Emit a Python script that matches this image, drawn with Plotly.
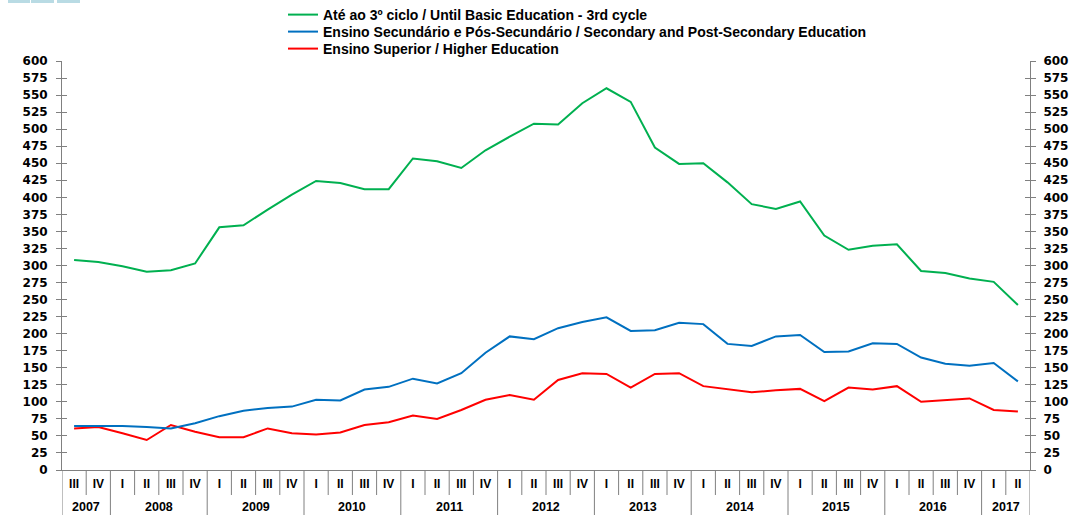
import plotly.graph_objects as go

# ---------------- data ----------------
years = ["2007"] * 2 + ["2008"] * 4 + ["2009"] * 4 + ["2010"] * 4 + ["2011"] * 4 + \
        ["2012"] * 4 + ["2013"] * 4 + ["2014"] * 4 + ["2015"] * 4 + ["2016"] * 4 + ["2017"] * 2
quarters = ["III", "IV"] + ["I", "II", "III", "IV"] * 9 + ["I", "II"]

basic = [308, 305, 299, 291, 293, 303, 356, 359, 382, 404, 424, 421, 412, 412,
         457, 453, 443, 469, 489, 508, 507, 538, 560, 540, 473, 449, 450, 422,
         390, 383, 394, 344, 323, 329, 331, 292, 289, 281, 276, 242]
secondary = [64.5, 64.5, 64.5, 63, 61, 68.5, 79, 87, 91, 93, 103, 102, 118, 122,
             134, 127, 142, 172, 196, 192, 208, 217, 224, 204, 205, 216, 214, 185,
             182, 196, 198, 173, 174, 186, 185, 165, 156, 153, 157, 130]
higher = [61, 63, 54, 44, 66, 56, 48, 48, 61, 54, 52, 55, 66, 70,
          80, 75, 88, 103, 110, 103, 132, 142, 141, 121, 141, 142, 123, 119,
          114, 117, 119, 101, 121, 118, 123, 100, 102, 105, 88, 86]

series_names = [
    "Até ao 3º ciclo / Until Basic Education - 3rd cycle",
    "Ensino Secundário e Pós-Secundário / Secondary and Post-Secondary Education",
    "Ensino Superior / Higher Education",
]
series_colors = ["#00B050", "#0070C0", "#FF0000"]

y_ticks = list(range(0, 601, 25))

# ---------------- figure ----------------
W, H = 1070, 515
ML, MR, MT, MB = 62, 40, 61, 45
PH = H - MT - MB
PW = W - ML - MR

x = list(range(len(quarters)))
FONT = "Liberation Sans, Arial, sans-serif"
AXIS_GREY = "#808080"

fig = go.Figure()
yaxes_for = ["y", "y2", "y"]
legend_ids = ["legend", "legend2", "legend3"]
for vals, name, col, ya, lg in zip([basic, secondary, higher], series_names,
                                   series_colors, yaxes_for, legend_ids):
    fig.add_trace(go.Scatter(x=x, y=vals, name=name, mode="lines", yaxis=ya,
                             legend=lg, line=dict(color=col, width=2)))

shapes = []
annotations = []
# quarter separators
for i in range(1, len(quarters)):
    new_year = years[i] != years[i - 1]
    shapes.append(dict(type="line", xref="x", yref="paper",
                       x0=i - 0.5, x1=i - 0.5, y0=0,
                       y1=-MB / PH if new_year else -25 / PH,
                       line=dict(color=AXIS_GREY, width=1)))
# outer edges
for xe in (-0.5, len(quarters) - 0.5):
    shapes.append(dict(type="line", xref="x", yref="paper", x0=xe, x1=xe,
                       y0=0, y1=-MB / PH, line=dict(color=AXIS_GREY, width=1)))
# year labels
for yr in dict.fromkeys(years):
    idx = [i for i, v in enumerate(years) if v == yr]
    annotations.append(dict(x=(idx[0] + idx[-1]) / 2, y=-37 / PH, xref="x", yref="paper",
                            text=yr, showarrow=False, yanchor="middle",
                            font=dict(family=FONT, size=12.5, color="black", weight="bold")))

# small decorative tabs top-left
for x0, x1 in [(8, 30), (31, 54), (57, 80)]:
    shapes.append(dict(type="rect", xref="paper", yref="paper",
                       x0=(x0 - ML) / PW, x1=(x1 - ML) / PW,
                       y0=1 + (MT - 3) / PH, y1=1 + MT / PH,
                       fillcolor="#b9dbe4", line=dict(width=0)))

tickfont = dict(family="DejaVu Sans, sans-serif", size=12, color="black", weight="bold")
yax_common = dict(range=[0, 600], tickvals=y_ticks, showgrid=False, zeroline=False,
                  showline=True, linecolor=AXIS_GREY, linewidth=1, mirror="ticks",
                  tickcolor=AXIS_GREY, ticklen=5, tickwidth=1, fixedrange=True,
                  tickfont=tickfont)

legend_common = dict(xanchor="left", yanchor="middle",
                     x=(283 - ML) / PW,
                     font=dict(family=FONT, size=14, color="black", weight="bold"),
                     bgcolor="rgba(0,0,0,0)", itemwidth=30)

fig.update_layout(
    width=W, height=H,
    margin=dict(l=ML, r=MR, t=MT, b=MB, autoexpand=False),
    plot_bgcolor="white", paper_bgcolor="white",
    showlegend=True,
    legend=dict(**legend_common, y=1 + (MT - 15) / PH),
    legend2=dict(**legend_common, y=1 + (MT - 32) / PH),
    legend3=dict(**legend_common, y=1 + (MT - 49) / PH),
    xaxis=dict(range=[-0.5, len(quarters) - 0.5], tickvals=x, ticktext=quarters,
               ticks="", showgrid=False, zeroline=False, showline=True,
               linecolor=AXIS_GREY, linewidth=1, fixedrange=True, ticklabelstandoff=3,
               tickfont=dict(family=FONT, size=12, color="black", weight="bold")),
    yaxis=dict(**yax_common, side="left", ticks="outside", ticklabelstandoff=6),
    yaxis2=dict(**yax_common, side="right", overlaying="y", ticks="inside",
                ticklabelstandoff=10),
    shapes=shapes,
    annotations=annotations,
)

fig.write_html("out.html", config={"displayModeBar": False},
               post_script="document.body.style.margin='0';")
